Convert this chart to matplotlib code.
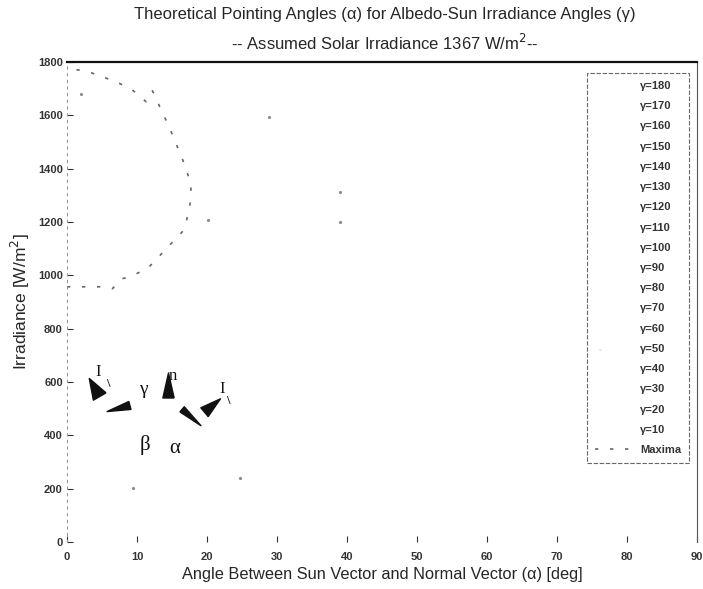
import numpy as np
import matplotlib.pyplot as plt
from matplotlib.markers import MarkerStyle

plt.rcParams['font.family'] = ['Liberation Sans', 'DejaVu Sans']

# values
gammas = [180, 170, 160, 150, 140, 130, 120, 110, 100, 90, 80, 70, 60, 50, 40, 30, 20, 10]

max_alpha = [0.0, 2.3, 3.8, 5.2, 6.5, 7.8, 9.0, 11.6, 16.6, 17.1, 17.7, 17.7, 16.7, 14.7, 12.2, 11.3, 9.3, 7.0, 3.0, 0.5]
max_irr = [957, 957, 957, 957, 950, 987, 994, 1028, 1167, 1208, 1283, 1343, 1422, 1550, 1692, 1651, 1696, 1726, 1764, 1775]

# faint remains of the gamma curves
trace_alpha = [20.2, 28.9, 39.0, 39.0, 9.4, 24.7, 76.1, 2.0]
trace_irr = [1208, 1595, 1313, 1200, 203, 240, 724, 1681]

# inset geometry sketch: arrow heads and symbols
head_alpha = [3.9, 7.3, 14.4, 17.7, 20.7]
head_irr = [580, 503, 589, 469, 514]
head_angle = [120, 195, 90, -41, 40]
head_len = [15, 17, 18, 18, 15]
head_width = [0.7, 0.35, 0.45, 0.27, 0.55]

sym_text = ['I', '\\', 'γ', 'n', 'I', '\\', 'β', 'α']
sym_alpha = [4.4, 5.9, 10.9, 15.1, 22.1, 23.0, 11.1, 15.4]
sym_irr = [638, 592, 570, 622, 574, 527, 364, 350]
sym_size = [12, 9, 14, 12, 12, 9, 15, 15]

ink = '#262626'

fig = plt.figure(figsize=(7.03, 5.89), dpi=100)
ax = fig.add_axes([67/703, 47/589, 630/703, 480/589])

for g in gammas:
    ax.plot([], [], color='white', linewidth=1, label=f'γ={g}')

ax.plot(max_alpha, max_irr, linestyle=(0, (2, 7)), color='#666666', linewidth=1.2, label='Maxima')
ax.plot(trace_alpha, trace_irr, linestyle='none', marker='.', markersize=2.5, color='#8a8a8a')

for xa, yi, ang, ln, w in zip(head_alpha, head_irr, head_angle, head_len, head_width):
    m = MarkerStyle([(-1, -w), (1, 0), (-1, w), (-1, -w)]).rotated(deg=ang)
    ax.plot(xa, yi, marker=m, markersize=ln, color='#111111', linestyle='none')

for t, xa, yi, fs in zip(sym_text, sym_alpha, sym_irr, sym_size):
    ax.text(xa, yi, t, fontsize=fs, family=['Liberation Serif', 'DejaVu Serif'],
            color='#111111', ha='center', va='center', fontweight='bold' if t == '\\' else 'normal')

ax.set_xlim(0, 90)
ax.set_ylim(0, 1800)
ax.set_xticks(np.arange(0, 91, 10))
ax.set_yticks(np.arange(0, 1801, 200))
ax.tick_params(direction='in', length=4, width=0.8, colors='#333333', labelsize=8)
ax.tick_params(axis='x', pad=7)
ax.tick_params(axis='y', pad=3)
for lab in ax.get_xticklabels() + ax.get_yticklabels():
    lab.set_fontweight('bold')

ax.spines['top'].set_linewidth(1.6)
ax.spines['top'].set_color('#111111')
ax.spines['bottom'].set_visible(False)
ax.spines['left'].set_color('#9a9a9a')
ax.spines['left'].set_linestyle((0, (2, 4)))
ax.spines['right'].set_color('#555555')
ax.spines['right'].set_linewidth(0.8)

ax.set_xlabel('Angle Between Sun Vector and Normal Vector (α) [deg]', fontsize=11.8, color=ink, labelpad=4)
ax.set_ylabel('Irradiance [W/m$^2$]', fontsize=12.5, color=ink, labelpad=4)

fig.text(385/703, 1 - 15/589, 'Theoretical Pointing Angles (α) for Albedo-Sun Irradiance Angles (γ)',
         fontsize=12, color=ink, ha='center', va='center')
fig.text(385/703, 1 - 43/589, '-- Assumed Solar Irradiance 1367 W/m$^2$--',
         fontsize=12, color=ink, ha='center', va='center')

leg = ax.legend(loc='upper left', bbox_to_anchor=((587 - 67) / 630, (542 - 73) / 480),
                labelspacing=0.92, handlelength=3.15, handletextpad=0.9, borderpad=0.72,
                frameon=True, fancybox=False, borderaxespad=0,
                prop={'weight': 'bold', 'size': 8})
leg.get_frame().set_edgecolor('#444444')
leg.get_frame().set_linewidth(0.8)
leg.get_frame().set_linestyle((0, (4, 1.5)))
for txt in leg.get_texts():
    txt.set_color('#333333')

fig.savefig('out.png', dpi=100)
